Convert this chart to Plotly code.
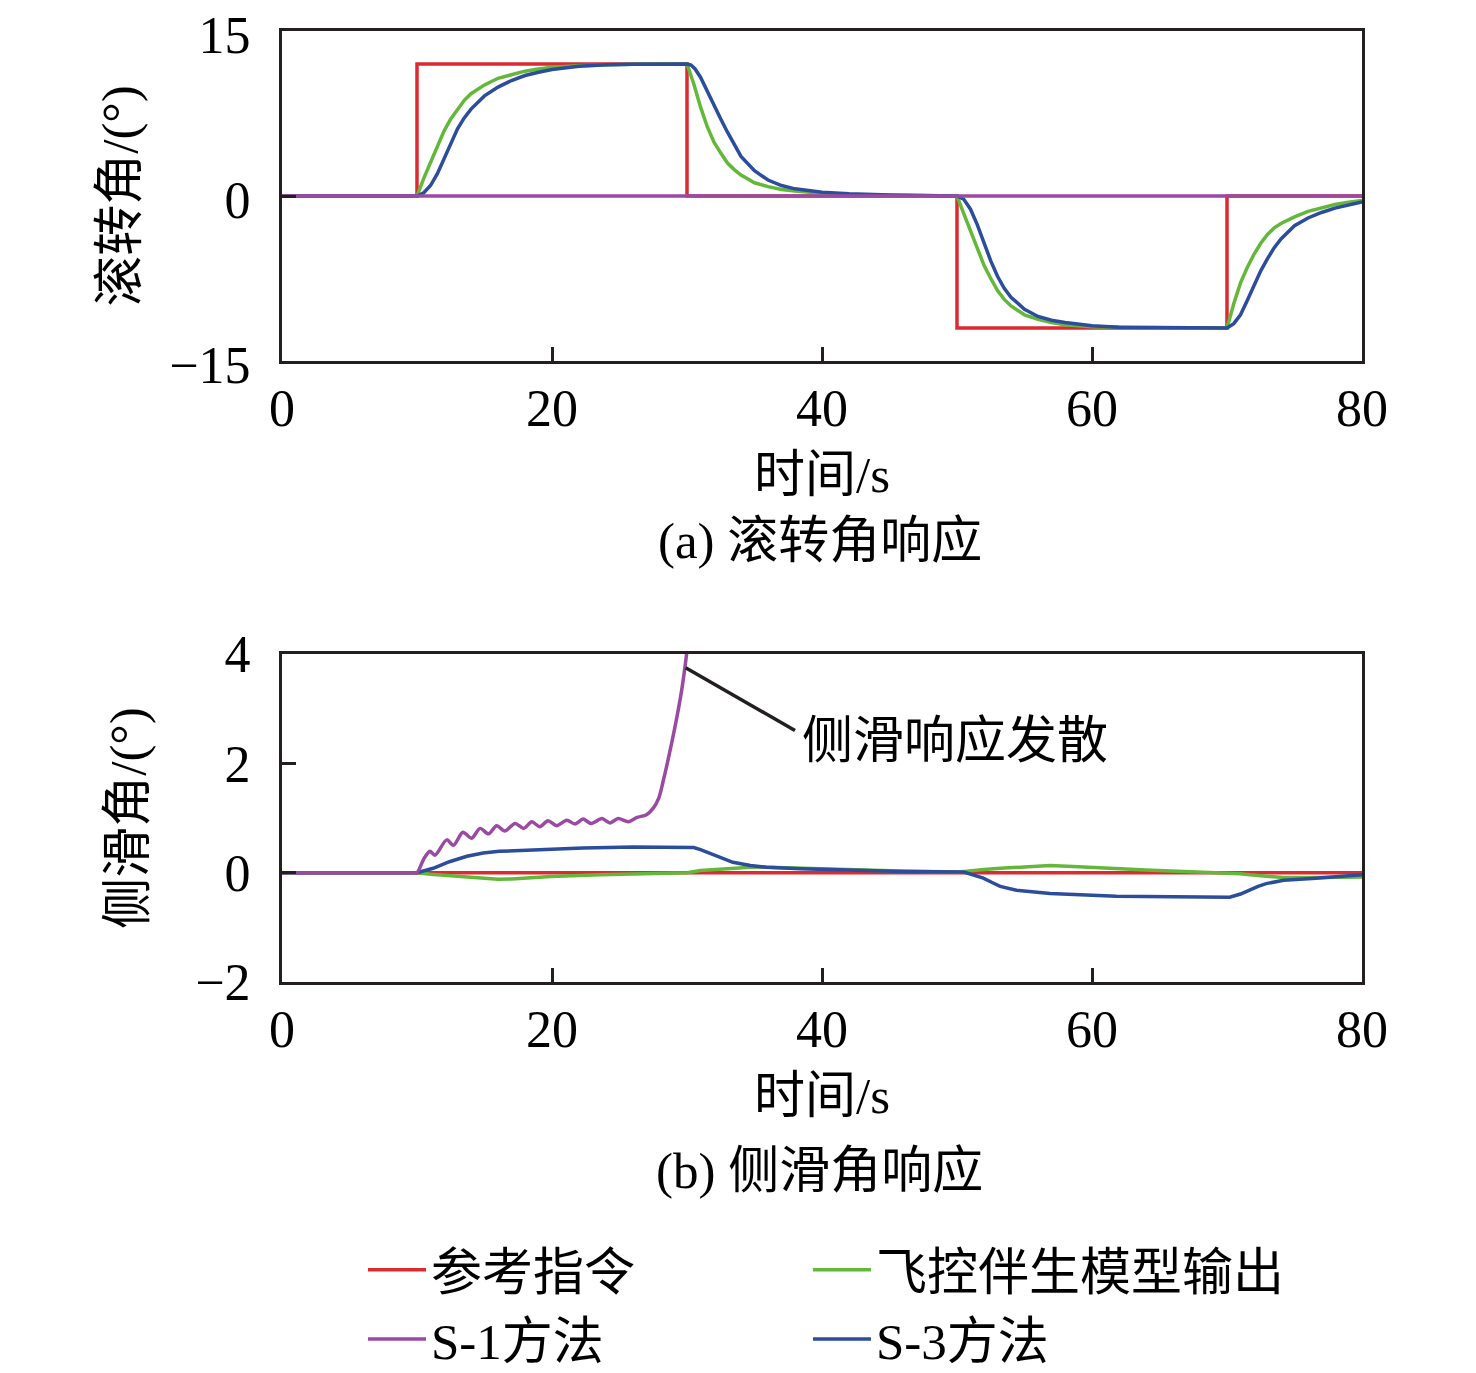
import plotly.graph_objects as go

# ---- data ----
# (a) roll angle
roll_ref_t = [0, 10, 10, 30, 30, 50, 50, 70, 70, 80]
roll_ref = [0, 0, 12, 12, 0, 0, -12, -12, 0, 0]

roll_s1_t = [0, 80]
roll_s1 = [0, 0]

roll_model_t = [0, 10, 10.5, 11, 11.5, 12, 12.5, 13, 13.5, 14, 15, 16, 17, 18, 19, 20, 22, 24, 26, 28,
                30, 30.5, 31, 31.5, 32, 32.5, 33, 33.5, 34, 35, 36, 37, 38, 40, 42, 45,
                50, 50.5, 51, 51.5, 52, 52.5, 53, 53.5, 54, 55, 56, 57, 58, 60, 62, 65,
                70, 70.5, 71, 71.5, 72, 72.5, 73, 73.5, 74, 75, 76, 77, 78, 79, 80]
roll_model = [0, 0, 1.6, 3.1, 4.5, 5.9, 7.0, 7.9, 8.7, 9.3, 10.1, 10.7, 11.05, 11.35, 11.55, 11.7, 11.85, 11.93, 11.97, 11.99,
              12.0, 10.2, 8.1, 6.3, 4.9, 3.9, 3.0, 2.4, 1.9, 1.2, 0.85, 0.6, 0.45, 0.25, 0.14, 0.06,
              0, -1.6, -3.2, -4.8, -6.3, -7.5, -8.6, -9.4, -10.0, -10.8, -11.2, -11.5, -11.7, -11.88, -11.95, -11.98,
              -12.0, -9.8, -7.9, -6.5, -5.3, -4.3, -3.5, -2.9, -2.5, -1.9, -1.4, -1.05, -0.78, -0.56, -0.4]

roll_s3_t = [0, 10, 10.5, 11, 11.5, 12, 12.5, 13, 13.5, 14, 15, 16, 17, 18, 19, 20, 22, 24, 26, 28,
             30, 30.3, 30.6, 31, 31.5, 32, 32.5, 33, 33.5, 34, 35, 36, 37, 38, 40, 42, 45,
             50, 50.5, 51, 51.5, 52, 52.5, 53, 53.5, 54, 55, 56, 57, 58, 60, 62, 65,
             70, 70.5, 71, 71.5, 72, 72.5, 73, 73.5, 74, 75, 76, 77, 78, 79, 80]
roll_s3 = [0, 0, 0.3, 0.95, 2.0, 3.4, 4.8, 6.1, 7.1, 7.9, 9.1, 9.9, 10.5, 10.95, 11.25, 11.5, 11.8, 11.93, 11.98, 12.0,
           12.0, 11.9, 11.55, 10.8, 9.5, 8.2, 7.0, 5.8, 4.7, 3.6, 2.3, 1.45, 0.95, 0.65, 0.35, 0.2, 0.08,
           0, -0.3, -1.2, -2.6, -4.3, -5.9, -7.3, -8.4, -9.2, -10.3, -10.95, -11.3, -11.5, -11.8, -11.93, -11.98,
           -12.0, -11.6, -10.8, -9.5, -8.1, -6.8, -5.7, -4.7, -3.9, -2.7, -2.0, -1.5, -1.1, -0.8, -0.55]

# (b) sideslip angle
slip_ref_t = [0, 80]
slip_ref = [0, 0]

slip_s1_t = [0, 5, 9.6, 10, 10.5, 10.96, 11.33, 12.2, 12.7, 13.4, 14.05, 14.67, 15.3, 15.9, 16.5, 17.26, 17.9,
             18.5, 19.1, 19.7, 20.35, 21.1, 21.7, 22.3, 22.9, 23.7, 24.3, 24.9, 25.65, 26.3, 27.0,
             27.5, 27.9, 28.25, 28.7, 29.2, 29.6, 29.97, 30.1]
slip_s1 = [0, 0, 0, 0, 0.25, 0.39, 0.32, 0.6, 0.5, 0.74, 0.63, 0.81, 0.71, 0.86, 0.76, 0.90, 0.81,
           0.93, 0.84, 0.95, 0.86, 0.96, 0.89, 0.98, 0.90, 0.99, 0.91, 0.99, 0.93, 1.01, 1.06,
           1.18, 1.36, 1.69, 2.18, 2.78, 3.33, 4.0, 4.3]

slip_model_t = [0, 10, 11, 12, 13, 14, 15, 16, 17, 18, 19.9, 23.6, 27, 30, 31, 32, 33, 34.7, 36, 38.4, 42, 45.8,
                50, 51, 52, 53.2, 55, 56.9, 59, 61.8, 64, 66.8, 70.2, 71, 71.7, 73, 74.2, 76.6, 80]
slip_model = [0, 0, -0.03, -0.05, -0.07, -0.09, -0.11, -0.12, -0.115, -0.1, -0.07, -0.04, -0.02, 0.0, 0.04, 0.06, 0.08, 0.1, 0.1, 0.08, 0.05, 0.03,
              0.01, 0.04, 0.06, 0.08, 0.11, 0.13, 0.11, 0.07, 0.05, 0.02, 0.0, -0.02, -0.04, -0.07, -0.09, -0.09, -0.08]

slip_s3_t = [0, 10, 11.2, 12.4, 13.7, 14.9, 16.1, 18.6, 22.3, 26.0, 30.0, 30.5, 31, 31.6, 32.2, 32.8, 33.4, 34.7, 35.9, 38.4, 42, 46,
             50.5, 51.2, 51.95, 52.6, 53.2, 54.4, 56.9, 61.8, 66.8, 70.2, 71, 71.7, 72.3, 72.9, 74.2, 76.6, 80]
slip_s3 = [0, 0, 0.08, 0.2, 0.3, 0.36, 0.39, 0.42, 0.45, 0.47, 0.47, 0.46, 0.42, 0.36, 0.30, 0.24, 0.19, 0.13, 0.10, 0.07, 0.04, 0.02,
           0.01, -0.04, -0.1, -0.18, -0.25, -0.32, -0.38, -0.43, -0.45, -0.45, -0.39, -0.31, -0.25, -0.2, -0.14, -0.1, -0.04]

x_ticks = [0, 20, 40, 60, 80]
roll_ticks = [-15, 0, 15]
slip_ticks = [-2, 0, 2, 4]

# annotation pointer (data coords of subplot b)
note_tip = (29.9, 3.75)
note_tail = (38.0, 2.6)

RED = '#dc2b30'
GREEN = '#63b83a'
PURPLE = '#9b4aa3'
BLUE = '#2c4c9c'
FONT = 'Liberation Serif, Noto Sans CJK SC, serif'
TXT = 51

fig = go.Figure()

# top panel (no legend)
fig.add_trace(go.Scatter(x=roll_ref_t, y=roll_ref, mode='lines', line=dict(color=RED, width=3.5),
                         showlegend=False, xaxis='x', yaxis='y'))
fig.add_trace(go.Scatter(x=roll_model_t, y=roll_model, mode='lines', line=dict(color=GREEN, width=3.5),
                         showlegend=False, xaxis='x', yaxis='y'))
fig.add_trace(go.Scatter(x=roll_s3_t, y=roll_s3, mode='lines', line=dict(color=BLUE, width=3.5),
                         showlegend=False, xaxis='x', yaxis='y'))
fig.add_trace(go.Scatter(x=roll_s1_t, y=roll_s1, mode='lines', line=dict(color=PURPLE, width=3.5),
                         showlegend=False, xaxis='x', yaxis='y'))

# bottom panel (carries the legends: two columns)
fig.add_trace(go.Scatter(x=slip_ref_t, y=slip_ref, mode='lines', line=dict(color=RED, width=3.5),
                         name='参考指令', legend='legend', legendrank=1, xaxis='x2', yaxis='y2'))
fig.add_trace(go.Scatter(x=slip_model_t, y=slip_model, mode='lines', line=dict(color=GREEN, width=3.5),
                         name='飞控伴生模型输出', legend='legend2', legendrank=1, xaxis='x2', yaxis='y2'))
fig.add_trace(go.Scatter(x=slip_s3_t, y=slip_s3, mode='lines', line=dict(color=BLUE, width=3.5),
                         name='S-3方法', legend='legend2', legendrank=2, xaxis='x2', yaxis='y2'))
fig.add_trace(go.Scatter(x=slip_s1_t, y=slip_s1, mode='lines', line=dict(color=PURPLE, width=3.5, shape='spline', smoothing=0.8),
                         name='S-1方法', legend='legend', legendrank=2, xaxis='x2', yaxis='y2'))

axis_common = dict(showline=True, mirror=True, linecolor='#231f20', linewidth=3,
                   ticks='inside', ticklen=14, tickwidth=2.5, tickcolor='#231f20', automargin=False,
                   ticklabeloverflow='allow',
                   showgrid=False, zeroline=False, tickfont=dict(size=52, family=FONT, color='black'))

legend_common = dict(orientation='v', y=-0.2608, xanchor='left', yanchor='top',
                     font=dict(size=TXT, family=FONT), bgcolor='rgba(0,0,0,0)', itemwidth=58)

fig.update_layout(
    width=1476, height=1373,
    margin=dict(l=274, r=122, t=23, b=399, autoexpand=False),
    plot_bgcolor='white', paper_bgcolor='white',
    font=dict(family=FONT, color='black', size=TXT),
    xaxis=dict(domain=[0, 1], anchor='y', range=[0, 80], tickvals=x_ticks, ticklabelstandoff=0,
               title=dict(text='时间/s', standoff=20, font=dict(size=TXT)), **axis_common),
    yaxis=dict(domain=[0.653, 1], anchor='x', range=[-15, 15], tickvals=roll_ticks, ticklabelstandoff=18,
               ticklabelshift=4,
               title=dict(text='滚转角/(°)', standoff=16, font=dict(size=TXT)), **axis_common),
    xaxis2=dict(domain=[0, 1], anchor='y2', range=[0, 80], tickvals=x_ticks, ticklabelstandoff=0,
                title=dict(text='时间/s', standoff=20, font=dict(size=TXT)), **axis_common),
    yaxis2=dict(domain=[0, 0.3449], anchor='x2', range=[-2, 4], tickvals=slip_ticks, ticklabelstandoff=18,
                title=dict(text='侧滑角/(°)', standoff=34, font=dict(size=TXT)), **axis_common),
    legend=dict(x=0.075, **legend_common),
    legend2=dict(x=0.487, **legend_common),
)

fig.add_annotation(text='(a) 滚转角响应', xref='paper', yref='paper', x=0.498, y=0.4637,
                   showarrow=False, font=dict(size=TXT, family=FONT), xanchor='center', yanchor='middle')
fig.add_annotation(text='(b) 侧滑角响应', xref='paper', yref='paper', x=0.498, y=-0.1987,
                   showarrow=False, font=dict(size=TXT, family=FONT), xanchor='center', yanchor='middle')

fig.add_shape(type='line', xref='x2', yref='y2', x0=note_tip[0], y0=note_tip[1], x1=note_tail[0], y1=note_tail[1],
              line=dict(color='#231f20', width=3.5))
fig.add_annotation(text='侧滑响应发散', xref='x2', yref='y2', x=note_tail[0] + 0.4, y=note_tail[1] - 0.2,
                   showarrow=False, xanchor='left', yanchor='middle', font=dict(size=TXT, family=FONT))

fig.write_html("out.html")
